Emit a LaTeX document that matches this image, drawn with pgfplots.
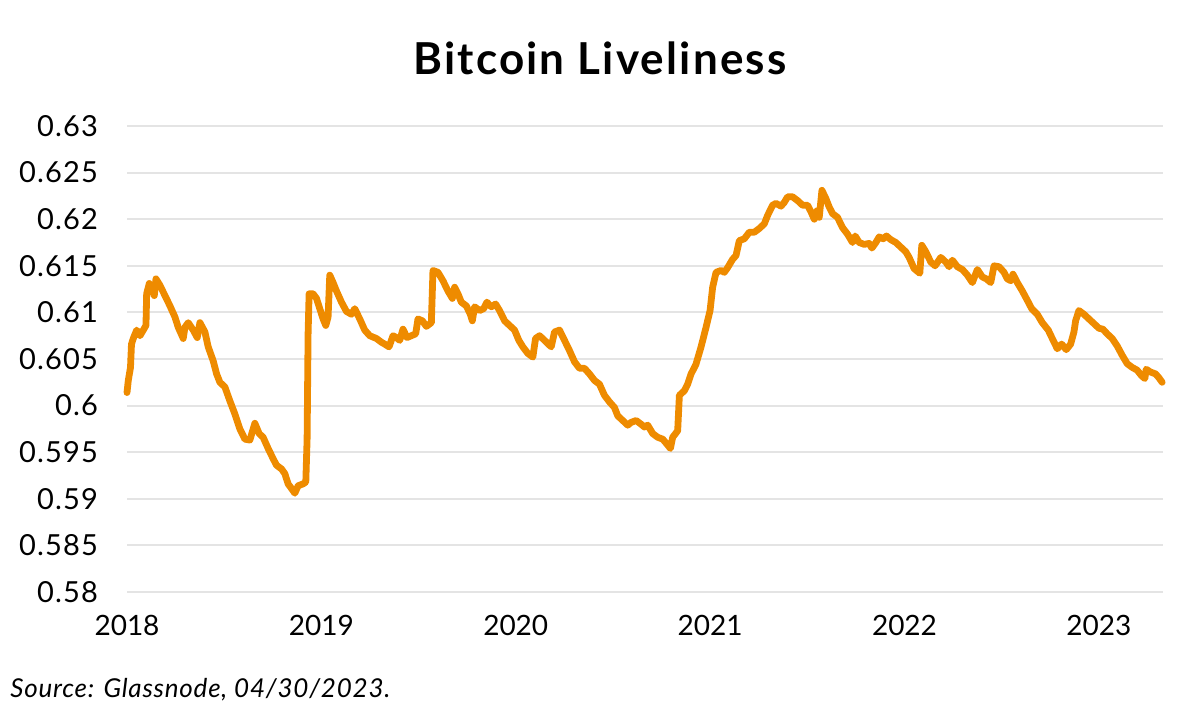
\documentclass[border=0pt]{standalone}
\usepackage{fontspec}
\setmainfont{Lato}
\usepackage{pgfplots}
\pgfplotsset{compat=1.18}
\definecolor{liveorange}{RGB}{238,139,0}
\definecolor{gridgray}{RGB}{228,228,228}

\begin{document}
\begin{tikzpicture}
\path[use as bounding box] (0,0) rectangle (600bp,360bp);
\begin{axis}[
  at={(63.5bp,64bp)}, anchor=south west,
  scale only axis, width=518bp, height=233bp,
  xmin=2018, xmax=2023.33, ymin=0.58, ymax=0.63,
  axis line style={draw=none},
  major tick length=0pt,
  ymajorgrids, grid style={gridgray, line width=1bp},
  ytick={0.58,0.585,0.59,0.595,0.6,0.605,0.61,0.615,0.62,0.625,0.63},
  yticklabels={0.58,0.585,0.59,0.595,0.6,0.605,0.61,0.615,0.62,0.625,0.63},
  xtick={2018,2019,2020,2021,2022,2023},
  xticklabels={2018,2019,2020,2021,2022,2023},
  tick label style={font=\fontsize{14bp}{16bp}\selectfont},
  yticklabel style={xshift=-11bp, font=\fontsize{14.5bp}{16bp}\selectfont\addfontfeatures{LetterSpace=4}},
  xticklabel style={yshift=-8bp},
  clip=false,
]
\addplot[liveorange, line width=3.4bp, line join=round, line cap=round] coordinates {
(2018.0000,0.6014) (2018.0067,0.6027) (2018.0180,0.6041) (2018.0231,0.6066)
(2018.0324,0.6072) (2018.0498,0.6081) (2018.0668,0.6075) (2018.0838,0.6081)
(2018.0976,0.6086) (2018.1012,0.6120) (2018.1146,0.6131) (2018.1269,0.6127)
(2018.1403,0.6118) (2018.1490,0.6136) (2018.1696,0.6129) (2018.1953,0.6118)
(2018.2210,0.6107) (2018.2467,0.6095) (2018.2636,0.6084) (2018.2893,0.6072)
(2018.2981,0.6084) (2018.3150,0.6089) (2018.3407,0.6081) (2018.3613,0.6073)
(2018.3751,0.6089) (2018.4008,0.6079) (2018.4178,0.6063) (2018.4435,0.6048)
(2018.4610,0.6034) (2018.4779,0.6025) (2018.5036,0.6020) (2018.5293,0.6005)
(2018.5550,0.5991) (2018.5807,0.5975) (2018.6064,0.5964) (2018.6321,0.5963)
(2018.6578,0.5981) (2018.6799,0.5970) (2018.7004,0.5966) (2018.7261,0.5954)
(2018.7518,0.5943) (2018.7693,0.5936) (2018.7950,0.5932) (2018.8120,0.5927)
(2018.8289,0.5916) (2018.8464,0.5911) (2018.8634,0.5906) (2018.8803,0.5914)
(2018.9060,0.5916) (2018.9199,0.5918) (2018.9266,0.5964) (2018.9317,0.6077)
(2018.9369,0.6120) (2018.9574,0.6120) (2018.9749,0.6115) (2018.9918,0.6104)
(2019.0088,0.6093) (2019.0227,0.6086) (2019.0345,0.6095) (2019.0432,0.6140)
(2019.0602,0.6132) (2019.0777,0.6123) (2019.1034,0.6111) (2019.1291,0.6101)
(2019.1548,0.6098) (2019.1717,0.6104) (2019.1974,0.6093) (2019.2231,0.6081)
(2019.2488,0.6075) (2019.2832,0.6072) (2019.3089,0.6068) (2019.3259,0.6066)
(2019.3480,0.6063) (2019.3686,0.6075) (2019.3860,0.6073) (2019.4030,0.6070)
(2019.4199,0.6082) (2019.4405,0.6073) (2019.4631,0.6075) (2019.4852,0.6077)
(2019.4970,0.6093) (2019.5196,0.6091) (2019.5402,0.6085) (2019.5659,0.6089)
(2019.5741,0.6145) (2019.5998,0.6143) (2019.6255,0.6134) (2019.6512,0.6123)
(2019.6738,0.6115) (2019.6856,0.6127) (2019.7026,0.6120) (2019.7200,0.6111)
(2019.7457,0.6107) (2019.7663,0.6098) (2019.7766,0.6091) (2019.7884,0.6106)
(2019.8141,0.6102) (2019.8347,0.6104) (2019.8516,0.6111) (2019.8742,0.6106)
(2019.8963,0.6109) (2019.9168,0.6102) (2019.9425,0.6091) (2019.9682,0.6086)
(2019.9939,0.6081) (2020.0160,0.6070) (2020.0366,0.6063) (2020.0623,0.6056)
(2020.0880,0.6052) (2020.1018,0.6072) (2020.1224,0.6075) (2020.1481,0.6070)
(2020.1825,0.6063) (2020.1995,0.6079) (2020.2252,0.6081) (2020.2509,0.6070)
(2020.2766,0.6059) (2020.3023,0.6047) (2020.3280,0.6040) (2020.3537,0.6040)
(2020.3794,0.6034) (2020.4051,0.6027) (2020.4307,0.6023) (2020.4564,0.6011)
(2020.4821,0.6004) (2020.5078,0.5998) (2020.5248,0.5989) (2020.5505,0.5984)
(2020.5762,0.5979) (2020.5937,0.5982) (2020.6194,0.5984) (2020.6451,0.5980)
(2020.6620,0.5977) (2020.6790,0.5979) (2020.7047,0.5970) (2020.7304,0.5966)
(2020.7561,0.5964) (2020.7766,0.5959) (2020.7956,0.5954) (2020.8074,0.5966)
(2020.8331,0.5973) (2020.8419,0.6011) (2020.8676,0.6016) (2020.8845,0.6023)
(2020.9020,0.6034) (2020.9267,0.6044) (2020.9534,0.6063) (2020.9791,0.6084)
(2020.9997,0.6102) (2021.0130,0.6127) (2021.0305,0.6143) (2021.0562,0.6145)
(2021.0731,0.6143) (2021.0901,0.6148) (2021.1158,0.6157) (2021.1333,0.6161)
(2021.1502,0.6177) (2021.1759,0.6179) (2021.2016,0.6186) (2021.2273,0.6186)
(2021.2530,0.6190) (2021.2787,0.6195) (2021.2957,0.6204) (2021.3214,0.6215)
(2021.3389,0.6217) (2021.3646,0.6214) (2021.3815,0.6218) (2021.3985,0.6224)
(2021.4242,0.6224) (2021.4499,0.6220) (2021.4756,0.6215) (2021.5013,0.6215)
(2021.5187,0.6208) (2021.5357,0.6200) (2021.5496,0.6209) (2021.5614,0.6202)
(2021.5753,0.6231) (2021.5958,0.6222) (2021.6128,0.6213) (2021.6297,0.6206)
(2021.6554,0.6202) (2021.6811,0.6191) (2021.7068,0.6184) (2021.7325,0.6175)
(2021.7464,0.6182) (2021.7669,0.6175) (2021.7926,0.6173) (2021.8183,0.6174)
(2021.8322,0.6169) (2021.8527,0.6175) (2021.8697,0.6181) (2021.8903,0.6179)
(2021.9072,0.6182) (2021.9298,0.6178) (2021.9555,0.6175) (2021.9812,0.6170)
(2022.0069,0.6165) (2022.0238,0.6159) (2022.0495,0.6147) (2022.0788,0.6142)
(2022.0891,0.6172) (2022.1097,0.6165) (2022.1354,0.6154) (2022.1575,0.6150)
(2022.1868,0.6159) (2022.2125,0.6154) (2022.2294,0.6149) (2022.2464,0.6156)
(2022.2721,0.6149) (2022.2978,0.6146) (2022.3235,0.6140) (2022.3492,0.6132)
(2022.3749,0.6146) (2022.4006,0.6138) (2022.4211,0.6136) (2022.4437,0.6132)
(2022.4607,0.6150) (2022.4864,0.6149) (2022.5121,0.6143) (2022.5290,0.6136)
(2022.5465,0.6134) (2022.5583,0.6141) (2022.5804,0.6132) (2022.6061,0.6123)
(2022.6318,0.6113) (2022.6544,0.6104) (2022.6832,0.6098) (2022.7089,0.6089)
(2022.7397,0.6081) (2022.7603,0.6072) (2022.7860,0.6061) (2022.8086,0.6066)
(2022.8322,0.6060) (2022.8548,0.6066) (2022.8718,0.6079) (2022.8805,0.6091)
(2022.8975,0.6102) (2022.9232,0.6098) (2022.9489,0.6093) (2022.9746,0.6088)
(2023.0003,0.6083) (2023.0208,0.6082) (2023.0429,0.6077) (2023.0686,0.6072)
(2023.0943,0.6064) (2023.1200,0.6054) (2023.1457,0.6045) (2023.1714,0.6041)
(2023.1971,0.6038) (2023.2197,0.6032) (2023.2367,0.6029) (2023.2434,0.6039)
(2023.2660,0.6036) (2023.2917,0.6034) (2023.3086,0.6030) (2023.3256,0.6025)
};
\end{axis}
\node[font=\fontsize{22bp}{26bp}\selectfont\bfseries\addfontfeatures{LetterSpace=5}] at (300bp,331bp) {Bitcoin Liveliness};
\node[anchor=west, font=\fontsize{13bp}{15bp}\selectfont\itshape\addfontfeatures{LetterSpace=3}, inner sep=0pt] at (5bp,15bp) {Source: Glassnode, 04/30/2023.};
\end{tikzpicture}
\end{document}
